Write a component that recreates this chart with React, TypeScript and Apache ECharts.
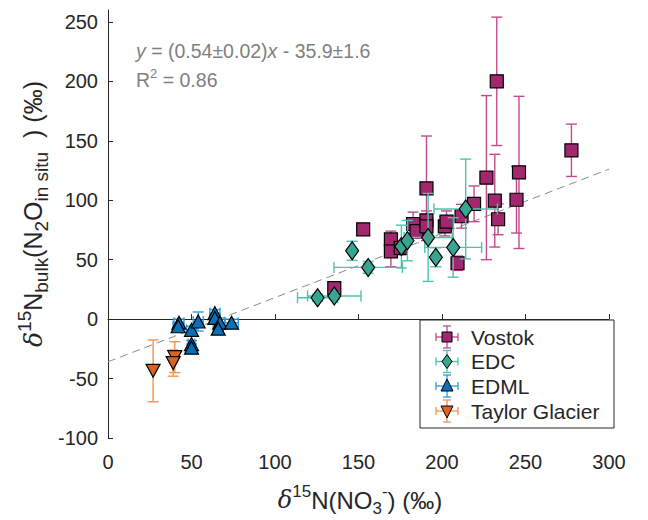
import React, { useEffect, useRef } from "react";
import * as echarts from "echarts";

const xTicks = [0, 50, 100, 150, 200, 250, 300];
const yTicks = [-100, -50, 0, 50, 100, 150, 200, 250];

const seriesNames = ["Vostok", "EDC", "EDML", "Taylor Glacier"];

const vostokX = [135.5, 152.8, 169.4, 169.4, 175.3, 182.7, 184.7, 190.7, 190.7, 190.7, 201.7, 202.7, 209.3, 211.7, 219.2, 226.6, 231.6, 232.8, 233.6, 244.6, 246.1, 277.5];
const vostokY = [26, 75.5, 67, 57, 60, 80, 74, 110, 83, 78, 78, 82, 47, 86.5, 97, 119, 99.6, 200, 84, 100.4, 123.4, 142];
const vostokXErr = [0, 0, 0, 0, 0, 0, 0, 0, 0, 0, 0, 0, 0, 0, 0, 0, 0, 0, 0, 0, 0, 0];
const vostokYErr = [4, 4, 7, 13, 6, 10, 6, 44, 8, 6, 8, 9, 6, 10, 15, 69, 39, 54, 13, 28, 64, 22];

const edcX = [125.5, 135.5, 146.2, 155.8, 175.7, 179.3, 191.7, 196.3, 206.7, 214.2];
const edcY = [18, 19.5, 57.5, 43.5, 61, 66, 68.7, 52, 60.3, 92.6];
const edcXErr = [12, 16, 0, 20.5, 0, 0, 14.4, 0, 17, 19];
const edcYErr = [3, 3, 8, 5, 18, 17, 37, 8, 25, 42];

const edmlX = [42.5, 42, 50, 54, 50, 50, 64, 64, 67, 66, 74];
const edmlY = [-3, -6, -9, -2, -21, -24, 5, 1, -3, -8, -3];
const edmlXErr = [3, 3, 3, 3, 2, 2, 3, 3, 3, 3, 4];
const edmlYErr = [3, 3, 3, 8, 3, 3, 3, 3, 3, 4, 3];

const taylorX = [27, 40, 39];
const taylorY = [-43.5, -32, -37];
const taylorXErr = [0, 0, 0];
const taylorYErr = [26, 13, 11];

const fitSlope = 0.54;
const fitIntercept = -35.9;
const fitXRange = [0, 300];

const FONT = '"Liberation Sans", Arial, Helvetica, sans-serif';
const AXIS_COLOR = "#262626";

const markerFill = ["#A3276F", "#37A58F", "#0B6FB8", "#D9631F"];
const barColor = ["#C24B8E", "#4CC3AE", "#2E9BDB", "#F4924F"];

function errorSeries(xs: number[], ys: number[], xe: number[], ye: number[], color: string, z: number) {
  const data = xs.map((x, i) => [x, ys[i], xe[i], ye[i]]);
  return {
    type: "custom",
    z,
    silent: true,
    data,
    encode: { x: 0, y: 1 },
    renderItem: (_params: any, api: any) => {
      const x = api.value(0) as number;
      const y = api.value(1) as number;
      const dx = api.value(2) as number;
      const dy = api.value(3) as number;
      const cap = 5.5;
      const style = { stroke: color, lineWidth: 1.4 };
      const children: any[] = [];
      if (dy > 0) {
        const a = api.coord([x, y + dy]);
        const b = api.coord([x, y - dy]);
        children.push({ type: "line", shape: { x1: a[0], y1: a[1], x2: b[0], y2: b[1] }, style });
        children.push({ type: "line", shape: { x1: a[0] - cap, y1: a[1], x2: a[0] + cap, y2: a[1] }, style });
        children.push({ type: "line", shape: { x1: b[0] - cap, y1: b[1], x2: b[0] + cap, y2: b[1] }, style });
      }
      if (dx > 0) {
        const a = api.coord([x - dx, y]);
        const b = api.coord([x + dx, y]);
        children.push({ type: "line", shape: { x1: a[0], y1: a[1], x2: b[0], y2: b[1] }, style });
        children.push({ type: "line", shape: { x1: a[0], y1: a[1] - cap, x2: a[0], y2: a[1] + cap }, style });
        children.push({ type: "line", shape: { x1: b[0], y1: b[1] - cap, x2: b[0], y2: b[1] + cap }, style });
      }
      return { type: "group", children };
    },
  };
}

function markerSeries(name: string, xs: number[], ys: number[], symbol: string, size: any, fill: string, z: number, rotate = 0) {
  return {
    type: "scatter",
    name,
    z,
    symbol,
    symbolSize: size,
    symbolRotate: rotate,
    data: xs.map((x, i) => [x, ys[i]]),
    itemStyle: { color: fill, borderColor: "#000", borderWidth: 1.2, opacity: 1 },
  };
}

function legendGraphic() {
  const left = 420, top = 320, right = 614, bottom = 428;
  const rowsY = [337, 361.5, 386, 411];
  const iconX = 447;
  const els: any[] = [
    { type: "rect", shape: { x: left, y: top, width: right - left, height: bottom - top }, style: { fill: "#fff", stroke: AXIS_COLOR, lineWidth: 1 }, z: 100 },
  ];
  const shapes = [
    { type: "rect", shape: { x: -5, y: -5, width: 10, height: 10 } },
    { type: "polygon", shape: { points: [[0, -7], [5, 0], [0, 7], [-5, 0]] } },
    { type: "polygon", shape: { points: [[0, -7], [6, 5], [-6, 5]] } },
    { type: "polygon", shape: { points: [[0, 7], [6, -5], [-6, -5]] } },
  ];
  seriesNames.forEach((name, i) => {
    const cy = rowsY[i];
    const st = { stroke: barColor[i], lineWidth: 1.3 };
    const h = 11, c = 4;
    els.push({ type: "line", z: 101, shape: { x1: iconX - h, y1: cy, x2: iconX + h, y2: cy }, style: st });
    els.push({ type: "line", z: 101, shape: { x1: iconX - h, y1: cy - c, x2: iconX - h, y2: cy + c }, style: st });
    els.push({ type: "line", z: 101, shape: { x1: iconX + h, y1: cy - c, x2: iconX + h, y2: cy + c }, style: st });
    els.push({ type: "line", z: 101, shape: { x1: iconX, y1: cy - h, x2: iconX, y2: cy + h }, style: st });
    els.push({ type: "line", z: 101, shape: { x1: iconX - c, y1: cy - h, x2: iconX + c, y2: cy - h }, style: st });
    els.push({ type: "line", z: 101, shape: { x1: iconX - c, y1: cy + h, x2: iconX + c, y2: cy + h }, style: st });
    els.push({ ...shapes[i], x: iconX, y: cy, z: 102, style: { fill: markerFill[i], stroke: "#000", lineWidth: 1 } });
    els.push({
      type: "text", x: 471, y: cy, z: 102,
      style: { text: name, fontSize: 21, fontFamily: FONT, fill: AXIS_COLOR, align: "left", verticalAlign: "middle", textAlign: "left", textVerticalAlign: "middle" },
    });
  });
  return els;
}

export default function App() {
  const ref = useRef<HTMLDivElement>(null);
  useEffect(() => {
    if (!ref.current) return;
    const chart = echarts.init(ref.current, undefined, { renderer: "svg" });
    const fitData = fitXRange.map((x) => [x, fitSlope * x + fitIntercept]);
    const gray = "#7f7f7f";
    const option: any = {
      animation: false,
      backgroundColor: "#fff",
      textStyle: { fontFamily: FONT },
      grid: { left: 108, right: 39, top: 10, bottom: 82, containLabel: false },
      xAxis: {
        type: "value", min: 0, max: 300, interval: 50,
        axisLine: { show: true, lineStyle: { color: AXIS_COLOR, width: 1 } },
        axisTick: { show: true, inside: true, length: 5, lineStyle: { color: AXIS_COLOR } },
        axisLabel: { fontSize: 20, color: AXIS_COLOR, margin: 14, fontFamily: FONT, customValues: xTicks },
        splitLine: { show: false },
      },
      yAxis: {
        type: "value", min: -100, max: 260, interval: 50,
        axisLine: { show: true, lineStyle: { color: AXIS_COLOR, width: 1 } },
        axisTick: { show: true, inside: true, length: 5, lineStyle: { color: AXIS_COLOR }, customValues: yTicks },
        axisLabel: { fontSize: 20, color: AXIS_COLOR, margin: 10, fontFamily: FONT, customValues: yTicks },
        splitLine: { show: false },
      },
      series: [
        {
          type: "line", data: fitData, z: 1, symbol: "none", silent: true,
          lineStyle: { color: "#8a8a8a", width: 1, type: [8, 5] },
        },
        errorSeries(vostokX, vostokY, vostokXErr, vostokYErr, barColor[0], 2),
        markerSeries("Vostok", vostokX, vostokY, "rect", 13, markerFill[0], 3),
        errorSeries(edcX, edcY, edcXErr, edcYErr, barColor[1], 4),
        markerSeries("EDC", edcX, edcY, "diamond", [13, 18], markerFill[1], 5),
        errorSeries(edmlX, edmlY, edmlXErr, edmlYErr, barColor[2], 6),
        markerSeries("EDML", edmlX, edmlY, "triangle", [14, 13], markerFill[2], 7),
        errorSeries(taylorX, taylorY, taylorXErr, taylorYErr, barColor[3], 8),
        markerSeries("Taylor Glacier", taylorX, taylorY, "triangle", [14, 13], markerFill[3], 9, 180),
      ],
      graphic: [
        {
          type: "text", x: 136, y: 51, z: 50,
          style: {
            text: "{i|y}{n| = (0.54±0.02)}{i|x}{n| - 35.9±1.6}",
            align: "left", verticalAlign: "middle", textAlign: "left", textVerticalAlign: "middle",
            fill: gray,
            rich: {
              i: { fontSize: 19.5, fontStyle: "italic", fontFamily: FONT, fill: gray },
              n: { fontSize: 19.5, fontFamily: FONT, fill: gray },
            },
          },
        },
        {
          type: "text", x: 136, y: 80, z: 50,
          style: {
            text: "{n|R}{sup|2}{n| = 0.86}",
            align: "left", verticalAlign: "middle", textAlign: "left", textVerticalAlign: "middle",
            fill: gray,
            rich: {
              n: { fontSize: 19.5, fontFamily: FONT, fill: gray, lineHeight: 26, verticalAlign: "middle" },
              sup: { fontSize: 13, fontFamily: FONT, fill: gray, lineHeight: 13, verticalAlign: "top" },
            },
          },
        },
        {
          type: "text", x: 33, y: 214, rotation: Math.PI / 2, z: 50,
          style: {
            text: "{d|δ}{sup|15}{m|N}{sub|bulk}{m|(N}{sub|2}{m|O}{sub|in situ}{m|  ) (‰)}",
            align: "center", verticalAlign: "middle", textAlign: "center", textVerticalAlign: "middle",
            fill: AXIS_COLOR,
            rich: {
              d: { fontSize: 25, fontStyle: "italic", fontFamily: "DejaVu Serif, serif", fill: AXIS_COLOR, lineHeight: 36, verticalAlign: "middle" },
              m: { fontSize: 25, fontFamily: FONT, fill: AXIS_COLOR, lineHeight: 36, verticalAlign: "middle" },
              sup: { fontSize: 19, fontFamily: FONT, fill: AXIS_COLOR, lineHeight: 19, verticalAlign: "top" },
              sub: { fontSize: 19, fontFamily: FONT, fill: AXIS_COLOR, lineHeight: 19, verticalAlign: "bottom" },
            },
          },
        },
        {
          type: "text", x: 360, y: 500, z: 50,
          style: {
            text: "{d|δ}{sup|15}{m|N(NO}{sub|3}{sup|-}{m|) (‰)}",
            align: "center", verticalAlign: "middle", textAlign: "center", textVerticalAlign: "middle",
            fill: AXIS_COLOR,
            rich: {
              d: { fontSize: 24, fontStyle: "italic", fontFamily: "DejaVu Serif, serif", fill: AXIS_COLOR, lineHeight: 34, verticalAlign: "middle" },
              m: { fontSize: 24, fontFamily: FONT, fill: AXIS_COLOR, lineHeight: 34, verticalAlign: "middle" },
              sup: { fontSize: 17, fontFamily: FONT, fill: AXIS_COLOR, lineHeight: 17, verticalAlign: "top" },
              sub: { fontSize: 17, fontFamily: FONT, fill: AXIS_COLOR, lineHeight: 17, verticalAlign: "bottom" },
            },
          },
        },
        ...legendGraphic(),
      ],
    };
    chart.setOption(option);
    return () => chart.dispose();
  }, []);
  return <div ref={ref} style={{ position: "absolute", left: 0, top: 0, width: 648, height: 520, background: "#fff" }} />;
}
